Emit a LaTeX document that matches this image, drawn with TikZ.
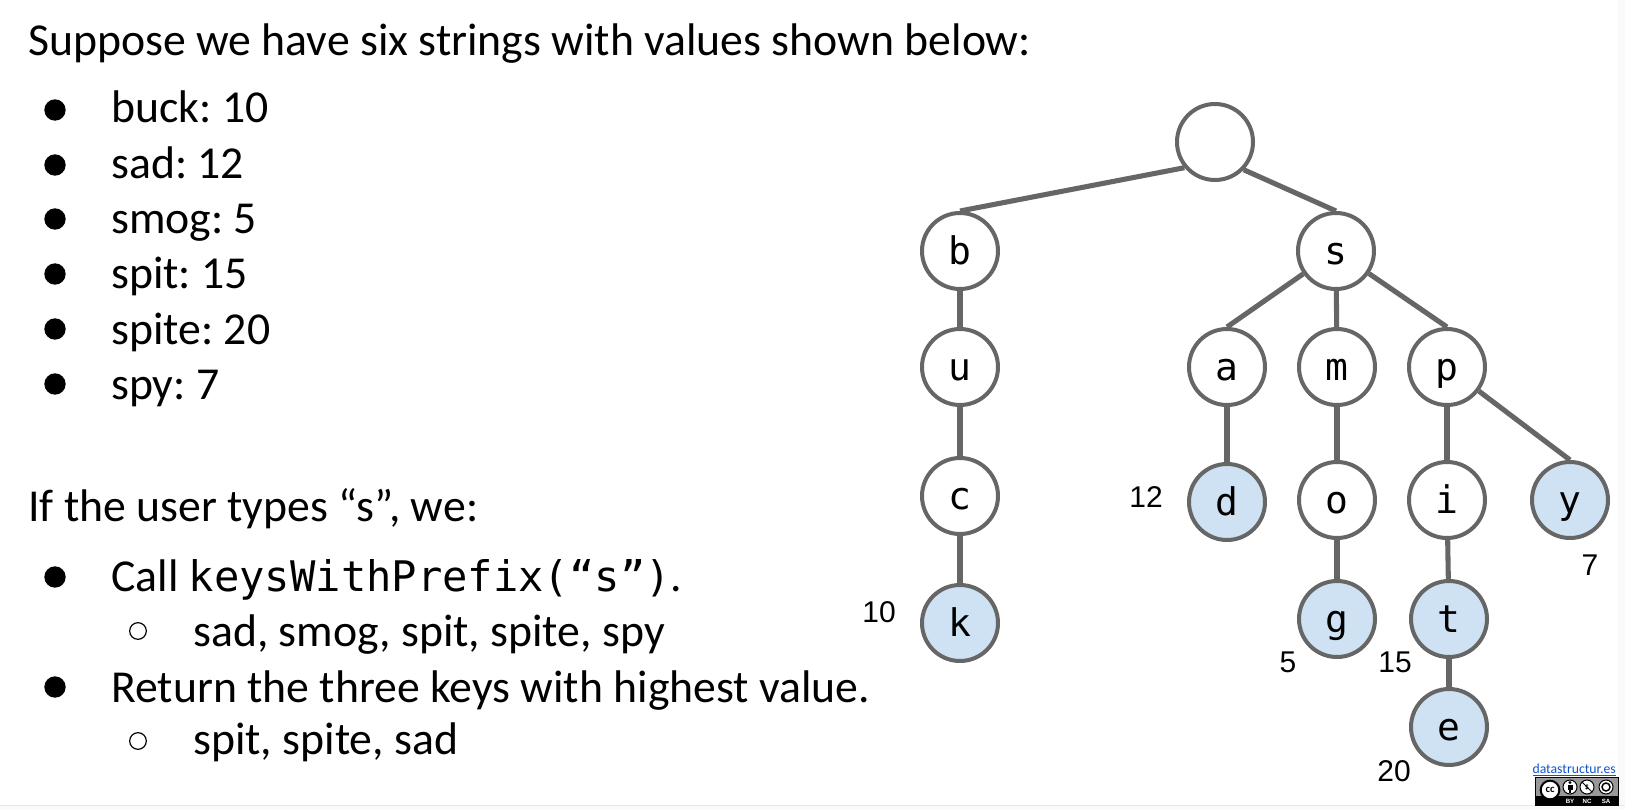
\documentclass[tikz,border=0pt]{standalone}
\usepackage{fontspec}
\setmainfont{Carlito}
\newfontfamily\treefont{DejaVu Sans Mono}
\newfontfamily\valfont{Liberation Sans}
\definecolor{edgegray}{HTML}{666666}
\definecolor{leafblue}{HTML}{CFE2F3}
\definecolor{linkblue}{HTML}{1155CC}
\tikzset{
  tn/.style={circle,draw=edgegray,line width=3pt,fill=white,minimum size=57pt,inner sep=0pt,text height=19.5pt,text depth=0pt,font=\treefont\fontsize{28.5}{30}\selectfont,text=black},
  leaf/.style={tn,fill=leafblue},
  edge/.style={draw=edgegray,line width=3.8pt},
  val/.style={font=\valfont\fontsize{22.5}{27}\selectfont,text=black},
  body/.style={anchor=base west,inner sep=0pt,font=\frenchspacing\fontsize{34.3}{40}\selectfont,text=black},
  dot/.style={circle,fill=black,minimum size=16pt,inner sep=0pt},
  hollow/.style={circle,draw=black,line width=0.9pt,minimum size=12.5pt,inner sep=0pt},
  ccic/.style={circle,draw=black,line width=0.75pt,fill=white,minimum size=10.5pt,inner sep=0pt},
}
\begin{document}
\begin{tikzpicture}[x=0.75pt,y=-0.75pt]
\useasboundingbox (0,0) rectangle (1625,810);
\fill[black!2] (0,0) rectangle (1625,810);
\fill[white] (0,0) rectangle (1618,805);
\draw[black!9,line width=0.75pt] (0,805.5) -- (1625,805.5);
% text
\node[body] (t0) at (28,55.5) {Suppose we have six strings with values shown below:};
\node[body] (t1) at (111,122.5) {buck: 10};
\node[body] (t2) at (111,178.5) {sad: 12};
\node[body] (t3) at (111,233.5) {smog: 5};
\node[body] (t4) at (111,288) {spit: 15};
\node[body] (t5) at (111,344) {spite: 20};
\node[body] (t6) at (111,399.5) {spy: 7};
\node[body] (t7) at (28,521) {If the user types “s”, we:};
\node[body] (t8) at (111,591.5) {Call {\treefont\fontsize{31.6}{37}\selectfont keysWithPrefix(“s”)}.};
\node[body] (t9) at (193,646) {sad, smog, spit, spite, spy};
\node[body] (t10) at (111,702) {Return the three keys with highest value.};
\node[body] (t11) at (193,754) {spit, spite, sad};
\foreach \n/\y in {d1/110,d2/165,d3/219,d4/274,d5/329,d6/384,d7/577,d8/687}
  \node[dot] (\n) at (55,\y) {};
\node[hollow] (h1) at (138,631) {};
\node[hollow] (h2) at (138,741) {};
% tree
\node[tn] (root) at (1215,142) {};
\node[tn] (b) at (960,251) {b};
\node[tn] (s) at (1336,251) {s};
\node[tn] (u) at (960,367) {u};
\node[tn] (c) at (960,496) {c};
\node[leaf] (k) at (960,623) {k};
\node[tn] (a) at (1227,367) {a};
\node[tn] (m) at (1337,367) {m};
\node[tn] (p) at (1447,367) {p};
\node[leaf] (dd) at (1227,502) {d};
\node[tn] (o) at (1337,500) {o};
\node[tn] (i) at (1447,500) {i};
\node[leaf] (yy) at (1570,500) {y};
\node[leaf] (g) at (1337,619) {g};
\node[leaf] (tt) at (1449,619) {t};
\node[leaf] (e) at (1449,727) {e};
\draw[edge] (root.220) -- (b.north);
\draw[edge] (root.-44) -- (s.north);
\draw[edge] (b) -- (u);
\draw[edge] (u) -- (c);
\draw[edge] (c) -- (k);
\draw[edge] (s) -- (a.north);
\draw[edge] (s) -- (m);
\draw[edge] (s) -- (p.north);
\draw[edge] (a) -- (dd);
\draw[edge] (m) -- (o);
\draw[edge] (p) -- (i);
\draw[edge] (p) -- (yy.north);
\draw[edge] (o) -- (g);
\draw[edge] (i) -- (tt);
\draw[edge] (tt) -- (e);
\node[val] (v10) at (879,612) {10};
\node[val] (v12) at (1146,497) {12};
\node[val] (v5) at (1288,662) {5};
\node[val] (v15) at (1395,662) {15};
\node[val] (v20) at (1394,771) {20};
\node[val] (v7) at (1590,565) {7};
% footer
\node[anchor=base east,inner sep=0pt,font=\fontsize{10.3}{14}\selectfont,text=linkblue] (link) at (1616,773) {\underline{datastructur.es}};
\fill[black!40,draw=black,line width=0.4pt] (1535,777) rectangle (1618,805);
\fill[black] (1535,796) rectangle (1618,805);
\node[ccic,minimum size=14pt,line width=1.5pt,font=\fontsize{8}{8}\bfseries\selectfont] (cc) at (1550,790) {cc};
\node[ccic] (by) at (1570,787) {};
\node[ccic] (nc) at (1587,787) {};
\node[ccic] (sa) at (1606,787) {};
\fill[black] (1570,782.5) circle (1.7);
\fill[black] (1567.5,785) rectangle (1572.5,790);
\fill[black] (1568.7,790) rectangle (1571.3,793);
\node[inner sep=0pt,font=\fontsize{6}{6}\bfseries\selectfont] (ncs) at (nc) {\$};
\draw[black,line width=0.7pt] (nc.north west) -- (nc.south east);
\draw[black,line width=1.1pt] (sa) circle (4);
\node[anchor=base,inner sep=0pt,text=white,font=\valfont\fontsize{4.6}{5}\bfseries\selectfont] (l1) at (1570,803) {BY};
\node[anchor=base,inner sep=0pt,text=white,font=\valfont\fontsize{4.6}{5}\bfseries\selectfont] (l2) at (1587,803) {NC};
\node[anchor=base,inner sep=0pt,text=white,font=\valfont\fontsize{4.6}{5}\bfseries\selectfont] (l3) at (1606,803) {SA};
\end{tikzpicture}
\end{document}
